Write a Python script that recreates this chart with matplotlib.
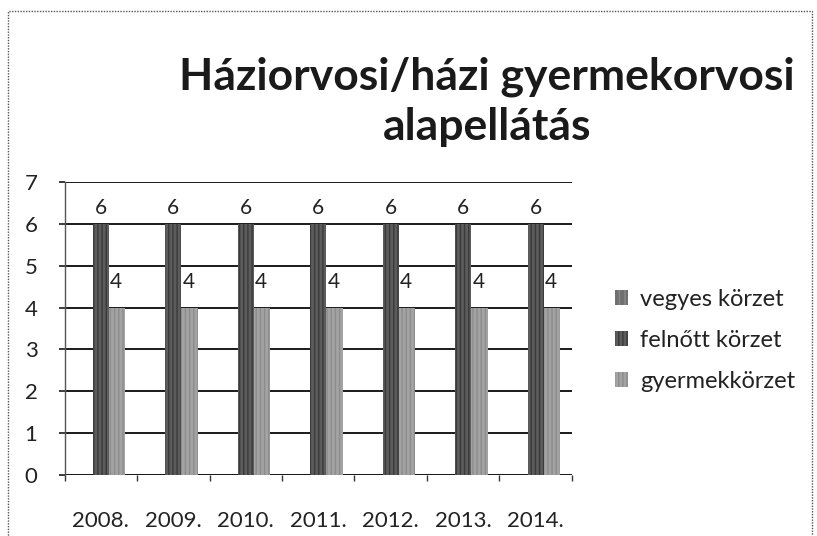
import matplotlib
matplotlib.use("Agg")
import matplotlib.pyplot as plt
import numpy as np
from matplotlib.patches import Rectangle

years = ["2008.", "2009.", "2010.", "2011.", "2012.", "2013.", "2014."]
vegyes = [0, 0, 0, 0, 0, 0, 0]
felnott = [6, 6, 6, 6, 6, 6, 6]
gyermek = [4, 4, 4, 4, 4, 4, 4]
series_names = ["vegyes körzet", "felnőtt körzet", "gyermekkörzet"]

plt.rcParams['font.family'] = ['Lato', 'DejaVu Sans']

fig = plt.figure(figsize=(8.17, 5.36), dpi=100)
ax = fig.add_axes([0.079, 0.114, 0.621, 0.546])

x = np.arange(len(years))
w = 0.225
dark = "#5c5c5c"
light = "#a3a3a3"
mid = "#707070"

ax.bar(x - w, vegyes, w, color=mid, hatch="|||", edgecolor="#8a8a8a", linewidth=0, zorder=3)
ax.bar(x, felnott, w, color=dark, hatch="||||", edgecolor="#3a3a3a", linewidth=0, zorder=3)
ax.bar(x + w, gyermek, w, color=light, hatch="||||", edgecolor="#8c8c8c", linewidth=0, zorder=3)

for xi, v in zip(x, felnott):
    ax.text(xi, v + 0.38, str(v), ha="center", va="center", fontsize=15, color="#222222", zorder=5)
for xi, v in zip(x, gyermek):
    ax.text(xi + w * 0.95, v + 0.62, str(v), ha="center", va="center", fontsize=15, color="#222222", zorder=5)

ax.set_xlim(-0.5, len(years) - 0.5)
ax.set_ylim(0, 7)
ax.set_yticks(range(0, 8))
ax.yaxis.grid(True, color="#1a1a1a", linewidth=1.4, zorder=1)
ax.set_axisbelow(True)
for s in ["top", "right", "bottom"]:
    ax.spines[s].set_visible(False)
ax.spines["left"].set_color("#555555")
ax.spines["left"].set_linestyle((0, (2, 1)))
ax.spines["left"].set_linewidth(1.0)
ax.axhline(0, color="#1a1a1a", linewidth=1.4, zorder=2)

ax.set_xticks(np.arange(-0.5, len(years), 1.0))
ax.set_xticklabels([])
ax.set_xticks(x, minor=True)
ax.set_xticklabels(years, minor=True)
ax.tick_params(axis="x", which="major", length=4.5, width=1, color="#333333")
ax.tick_params(axis="x", which="minor", length=0, pad=26, labelsize=16, labelcolor="#222222")
ax.tick_params(axis="y", length=4.5, width=1.2, color="#1a1a1a", pad=15, labelsize=16, labelcolor="#222222")
for lab in ax.get_yticklabels():
    lab.set_horizontalalignment("right")

fig.text(0.596, 0.81, "Háziorvosi/házi gyermekorvosi\nalapellátás", ha="center", va="center",
         fontsize=32, fontweight="bold", color="#1a1a1a", linespacing=1.3)

handles = [Rectangle((0, 0), 1, 1, facecolor=mid, hatch="|||", edgecolor="#8a8a8a", linewidth=0),
           Rectangle((0, 0), 1, 1, facecolor=dark, hatch="||||", edgecolor="#3a3a3a", linewidth=0),
           Rectangle((0, 0), 1, 1, facecolor=light, hatch="||||", edgecolor="#8c8c8c", linewidth=0)]
fig.legend(handles, series_names, loc="center left", bbox_to_anchor=(0.727, 0.365), frameon=False,
           fontsize=17, handlelength=0.55, handleheight=0.55, handletextpad=0.5, labelspacing=0.85,
           labelcolor="#222222")

border = Rectangle((0.010, -0.01), 0.984, 0.99, transform=fig.transFigure, fill=False,
                   edgecolor="#555555", linewidth=1.0, linestyle=(0, (1, 1)))
fig.add_artist(border)

fig.savefig("out.png", dpi=100)
